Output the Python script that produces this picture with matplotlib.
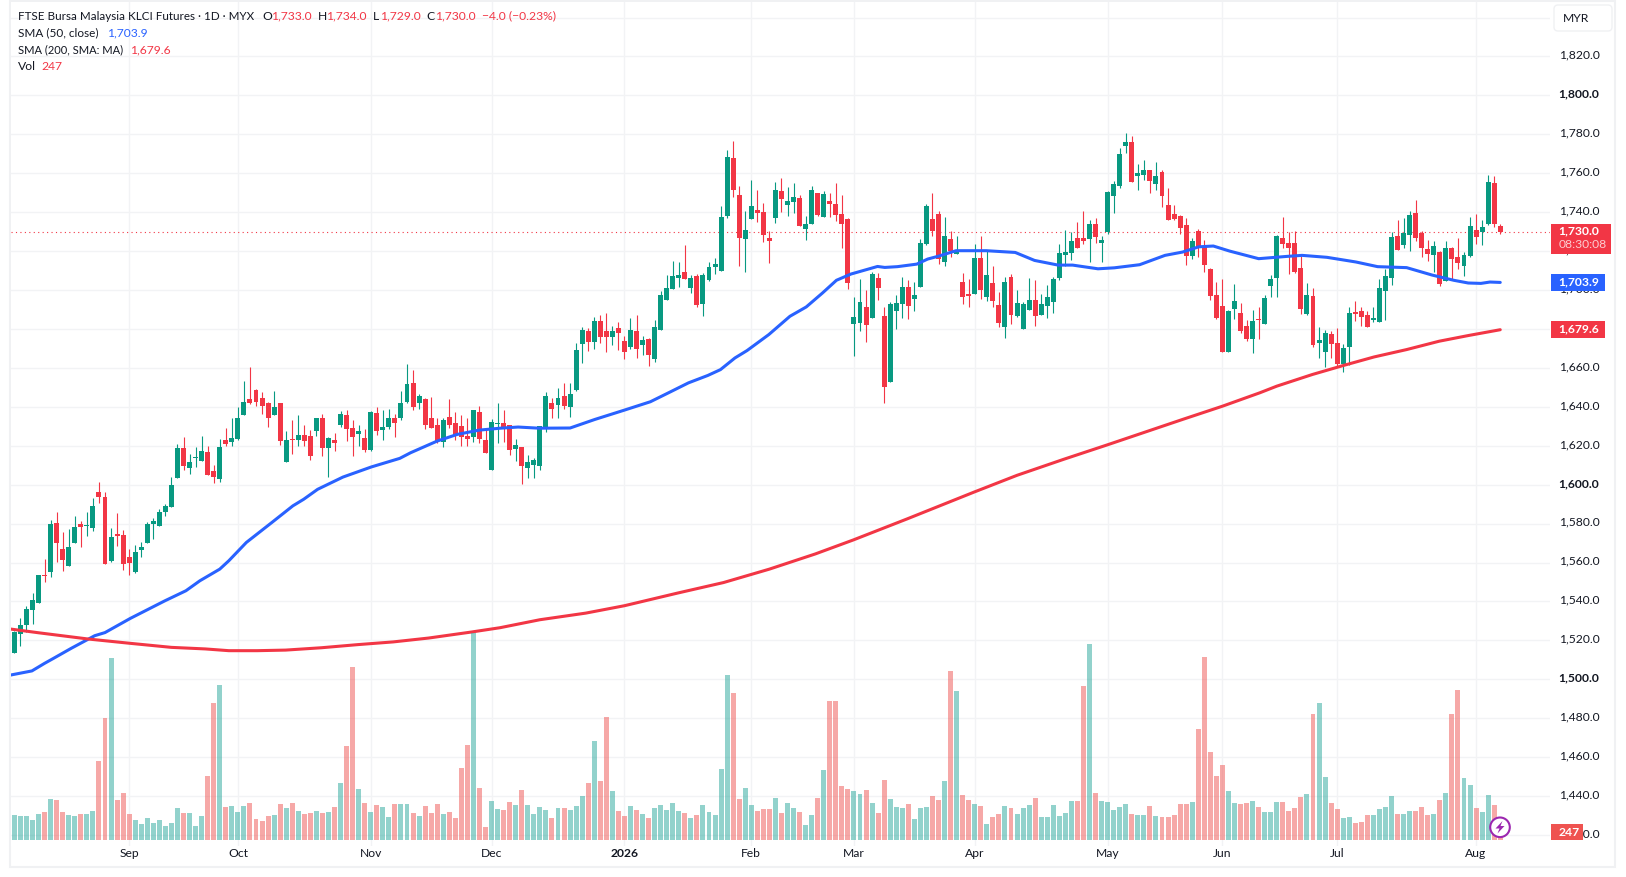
import matplotlib
matplotlib.use("Agg")
import matplotlib.pyplot as plt
from matplotlib.patches import Rectangle, FancyBboxPatch, Circle, Polygon
from matplotlib.transforms import Affine2D

W, H = 1626, 877
FONT = "Lato"
plt.rcParams["font.family"] = [FONT, "DejaVu Sans"]

opens = [
    1513.5,1523.2,1527.9,1535.6,1539.1,1553.2,1555,1580.2,1566.8,1558.1,
    1569.9,1579.7,1578.8,1577.6,1596.1,1593.5,1560.7,1574.2,1574,1562.7,
    1555,1566.3,1569.9,1579.7,1578.6,1585.8,1588.4,1603.2,1618.6,1608.4,
    1613.6,1612,1616.6,1606.8,1602.7,1622.7,1621.7,1623.2,1635.6,1643.8,
    1648.4,1644.3,1641.7,1635.6,1641.7,1611.5,1623.2,1622.7,1625.3,1624.8,
    1627.4,1634,1618.6,1622.7,1630.4,1635.6,1628.9,1625.8,1623.8,1617.6,
    1636.6,1627.9,1629.4,1634,1634,1642.7,1652,1641.7,1643.8,1634,
    1630.9,1621.7,1635,1631.5,1629.9,1624.8,1624.3,1637.1,1622.7,1607.4,
    1631,1631.5,1630.4,1618.1,1619.1,1608.4,1609.9,1609.4,1628.9,1642.2,
    1640.7,1645.8,1639.7,1648.4,1672.5,1679.1,1673.5,1684.3,1679.1,1676.1,
    1680.7,1674,1670.9,1679.1,1671.5,1675,1664.8,1679.7,1695,1700.7,
    1706.3,1709.4,1701.2,1707.4,1693,1705.3,1712,1709.9,1738.1,1767.9,
    1748.9,1726.3,1736.6,1741.2,1740.2,1726.8,1737.1,1750.9,1743.8,1745.3,
    1747.4,1731.5,1734,1749.9,1737.6,1745.8,1744.3,1739.1,1736.6,1682.7,
    1683.2,1691.5,1685.8,1706.3,1686.8,1652.5,1689.4,1693,1701.7,1695.6,
    1701.7,1723.8,1736.6,1739.1,1714.5,1726.3,1718.6,1704.3,1698.1,1698.1,
    1716.6,1696.6,1703.8,1692.5,1681.2,1706.8,1686.8,1680.2,1689.9,1695,
    1687.4,1692,1694,1706.3,1718.1,1719.1,1726.8,1726.8,1726.3,1734,
    1724.3,1729.9,1748.4,1753.5,1774,1776.1,1758.6,1759.1,1761.7,1754.5,
    1760.7,1743.8,1739.1,1738.1,1733.5,1717.6,1730.4,1722.7,1710.9,1697.6,
    1692,1668.4,1690.4,1688.4,1681.7,1675,1684.8,1682.7,1702.2,1706.3,
    1726.8,1724.3,1724.3,1711.5,1687.9,1697.1,1673,1668.4,1677.6,1673,
    1662.2,1670.9,1688,1689.4,1687.4,1684.8,1683.8,1699.7,1706.3,1727.9,
    1723.2,1728.4,1739.7,1729.4,1721.2,1718.1,1719.7,1704.8,1721.7,1717.1,
    1712.5,1717.6,1730.9,1729.9,1734,1755,1733,
]
closes = [
    1524.4,1527.9,1536.1,1540.7,1553.5,1553,1579.7,1569.9,1561.2,1567.9,
    1578.1,1578.1,1579,1588.9,1593.5,1559.1,1573,1573.8,1559.1,1559.7,
    1565.3,1567.9,1579.7,1581.2,1585.8,1588.9,1599.7,1618.6,1609.4,1611.5,
    1613.9,1617.1,1604.8,1603.8,1619.1,1620.7,1623.8,1634.5,1642.7,1641.7,
    1642.7,1640.2,1634,1639.7,1622.2,1622.7,1623.1,1625.3,1622.2,1614.5,
    1634,1618.6,1623.8,1621.2,1636.1,1628.4,1624.3,1627.4,1617.6,1637.1,
    1627.4,1629.4,1634,1631.5,1642.2,1651.5,1639.7,1645.3,1630.4,1628.9,
    1622.2,1633,1630.4,1625.3,1624.3,1623.2,1638.1,1623.2,1616.1,1632,
    1631.3,1628.9,1617.6,1620.2,1609.4,1611.5,1612.5,1629.9,1645.8,1639.1,
    1644.3,1640.2,1646.8,1669.4,1679.7,1673.5,1684.3,1676.1,1676.1,1679.1,
    1678.1,1668.4,1679.7,1669.9,1674.5,1666.8,1681.2,1697.6,1701.2,1707.4,
    1707.9,1705.8,1706.3,1692.5,1707.9,1712,1713.5,1737.6,1768.4,1751.5,
    1726.8,1730.9,1743.2,1739.7,1728.4,1725.3,1751.5,1746.8,1745.8,1747.9,
    1733,1734,1751.5,1738.6,1749.4,1744.3,1738.6,1734,1703.8,1686.3,
    1694,1682.2,1708.4,1701.2,1650.4,1693,1693.5,1701.7,1692,1697.6,
    1724.3,1743.2,1730.4,1716.1,1727.9,1720.2,1720.2,1696.6,1697.1,1716.6,
    1700.2,1707.9,1694.5,1683.2,1704.3,1687.4,1693.5,1693,1695,1686.8,
    1693,1696.6,1705.8,1719.1,1719.7,1725.3,1721.7,1725.3,1734,1727.4,
    1725.8,1750.4,1754.5,1769.9,1776.1,1755.6,1760.2,1761.7,1756.1,1758.6,
    1748.4,1736.1,1736.6,1732,1717.6,1725.3,1721.7,1713,1697.1,1685.8,
    1668.4,1689.4,1694.5,1679.1,1675,1684.3,1684.6,1696.1,1705.8,1727.9,
    1723.8,1721.7,1709.4,1690.4,1697.6,1671.5,1674.5,1678.1,1672.5,1662.2,
    1670.4,1688.4,1687.9,1686.3,1681.2,1685,1701.2,1707.4,1727.4,1720.7,
    1729.4,1738.6,1726.8,1721.7,1718.6,1722.7,1703.2,1721.7,1716.1,1714,
    1718.1,1733,1727.4,1732.5,1755.6,1734,1730,
]
highs = [
    1525,1531.5,1537.6,1544.3,1553.7,1561.7,1581.7,1585.8,1575.6,1577.1,
    1583.8,1581.2,1585.8,1593,1601.2,1596.1,1577.6,1585.3,1576.6,1566.8,
    1568.9,1570.4,1580.7,1582.7,1587.4,1589.9,1603.8,1620.7,1624.3,1615.6,
    1619.1,1624.8,1619.7,1609.9,1623.2,1628.9,1634.5,1639.7,1653,1660.7,
    1648.9,1647.4,1642.7,1647.9,1641.9,1627.4,1633,1635.6,1630.4,1627.9,
    1634.5,1636.1,1624.3,1626.3,1637.6,1638.6,1633,1630.4,1628.4,1637.6,
    1639.7,1638.6,1639.1,1636.1,1647.9,1662.2,1659.1,1646.8,1644.3,1644.8,
    1634.5,1634.5,1643.8,1637.1,1635.6,1634.5,1638.6,1640.2,1627.9,1633.5,
    1642.2,1638.6,1630.6,1623.2,1619.3,1615,1613.5,1630,1647.4,1644.3,
    1649.9,1652,1652,1673,1681.2,1680.7,1686.3,1687.4,1688.4,1681.7,
    1683.8,1676.6,1685.8,1687.4,1676.6,1675.6,1684.8,1699.7,1707.9,1715,
    1714.5,1723.2,1707.9,1708.4,1708.9,1714.5,1716.6,1743.2,1772,1776.6,
    1753.5,1740.7,1756.6,1751.5,1744.8,1730.4,1755.6,1757.6,1753,1755,
    1748.9,1738.1,1753.5,1750,1750.9,1749.9,1755,1748.9,1736.8,1696.6,
    1705.8,1700.2,1709.4,1708.9,1691.5,1694,1697.6,1706.8,1705.3,1704.3,
    1726.3,1744.3,1749.9,1740.7,1737.6,1730.4,1727.9,1708.9,1705.8,1723.8,
    1727.9,1720.2,1712.5,1699.1,1706.8,1708.4,1700.2,1694,1706.3,1705.3,
    1698.1,1702.7,1706.8,1723.8,1730.9,1729.9,1735,1740.7,1736.1,1737.1,
    1727.9,1750.9,1756.1,1773,1780.7,1779.1,1764.8,1766.8,1761.9,1765.8,
    1761.7,1752.5,1743.8,1738.3,1737.1,1726.8,1731.5,1725.8,1711.5,1704.3,
    1705.8,1689.6,1703.2,1693.5,1684.8,1689.9,1691.5,1697.6,1707.9,1728.4,
    1737.6,1729.9,1730.4,1717.6,1703.8,1701.2,1681.2,1679.7,1679.1,1680.7,
    1672.5,1691.5,1694.5,1691.5,1689.4,1691.5,1705.8,1710.9,1729.9,1736.1,
    1737.1,1740.7,1746.3,1730.4,1725.8,1725.3,1720.2,1725.3,1721.9,1726.8,
    1719.7,1737.6,1739.1,1736.1,1759.1,1758.6,1734,
]
lows = [
    1513.5,1517.1,1524.1,1528.4,1539,1549.9,1552.5,1560.2,1555.6,1558,
    1569.9,1567.9,1573.5,1576.1,1590.4,1559,1560.2,1568.4,1556.1,1553.5,
    1554.5,1562.7,1569.9,1572,1578.6,1583.8,1588.4,1603.2,1607.4,1605.3,
    1608.9,1612,1604.8,1600.7,1601.2,1619.7,1619.7,1622.7,1635.6,1641.2,
    1640.2,1636.1,1629.4,1635.6,1620.2,1611.5,1615.6,1619.7,1619.7,1612.5,
    1624.8,1614.5,1603.8,1617.1,1629.4,1622.2,1614.5,1619.7,1616.6,1617.5,
    1625.3,1622.7,1628.4,1624.3,1633,1641.7,1638.6,1639.1,1628.4,1628.9,
    1621.2,1619.1,1628.9,1622.7,1619.7,1619.7,1621.7,1621.2,1616.1,1607.4,
    1621.2,1621.7,1615,1612,1600.2,1603.2,1603.2,1607.4,1626.8,1634,
    1634,1639.1,1634.7,1647.9,1662.7,1668.9,1669.9,1673,1668.4,1671.5,
    1669.4,1664.3,1669.9,1665.3,1666.8,1661.2,1663.2,1679.7,1695,1700.7,
    1701.7,1705.8,1698.6,1691.5,1686.8,1704.8,1708.4,1709.9,1737.1,1747.9,
    1712.5,1709.4,1736.6,1735,1724.8,1714,1734.5,1740.2,1738.1,1739.7,
    1733,1725.8,1734,1738.1,1737.6,1737.6,1735.6,1721.7,1700.7,1666.3,
    1679.1,1673.5,1685.8,1695,1641.7,1652.5,1680.2,1685.8,1685.3,1689.4,
    1701.7,1723.2,1727.9,1713.5,1712.5,1717.1,1718.6,1693,1691.5,1698.1,
    1695.6,1694.5,1691.5,1681.2,1675.6,1682.7,1686.3,1680.2,1689.9,1681.7,
    1687.4,1685.8,1688.4,1705.3,1712.5,1715.6,1721.7,1723.8,1714.5,1724.3,
    1714.5,1728.9,1739.7,1752.5,1770.4,1755.6,1751.5,1756.6,1749.9,1751.5,
    1742.7,1736.1,1736.1,1728.9,1713,1716.1,1717.1,1709.4,1695,1685.3,
    1668.4,1668.3,1685.3,1678.1,1674,1667.4,1675,1682.7,1696.6,1696.6,
    1721.7,1708.4,1708.9,1687.9,1687.4,1670.9,1665.3,1660.7,1665.3,1660.7,
    1658.1,1661.7,1684.3,1681.7,1681.2,1683.8,1683.8,1684.8,1702.7,1720.7,
    1721.7,1720.2,1725.3,1717.1,1715,1709.4,1702.2,1704.8,1705.3,1710.9,
    1707.4,1717.1,1723.8,1723.2,1733.5,1732.5,1729,
]
volumes = [
    805,773,773,644,838,902,1321,1289,902,805,
    773,838,838,934,2545,3931,5864,1289,1514,838,
    644,516,709,548,644,451,548,1031,870,870,
    451,773,2062,4414,4994,1063,1095,902,1095,1192,
    677,612,773,805,1160,1031,1192,934,838,870,
    934,870,902,1063,1837,3029,5574,1643,1192,902,
    1128,1063,741,1160,1160,1160,870,773,1095,870,
    1160,838,902,709,2320,3061,6659,1675,419,1257,
    999,967,1224,1128,1611,1128,838,1063,967,709,
    1031,1031,967,1095,1418,1837,3190,1901,3963,1579,
    934,773,1095,967,838,709,1031,1128,967,1192,
    934,870,709,805,1128,902,805,2288,5316,4736,
    1321,1675,1128,934,999,999,1353,870,1192,1031,
    902,483,805,1353,2255,4479,4479,1740,1643,1579,
    1482,1611,1192,870,1933,1321,1063,1031,1160,677,
    1031,1063,1418,1289,1901,5445,4801,1450,1289,1160,
    1095,516,741,838,1095,1031,838,1031,1128,1353,
    741,741,1128,773,870,1257,1257,4962,6315,1514,
    1257,1224,967,1063,1160,838,805,805,1095,773,
    741,741,805,1160,1160,1224,3576,5896,2835,2062,
    2417,1579,1192,1160,1192,1257,1063,902,902,1224,
    1224,934,1031,1385,1482,4060,4414,2030,1192,999,
    709,741,548,580,805,805,999,1063,1418,838,
    838,934,934,1063,805,838,1289,1514,4060,4833,
    1998,1772,1031,902,1450,1128,247,
]

sma50_bar = [-0.6,2.9,5,6.5,9.4,13.3,15,19.2,24.9,28.4,30.7,34,35.5,38.4,42.6,46.1,47.9,50.2,54.4,59.1,63.8,65.6,70,73.3,76.9,80.4,83.4,86.9,92,96.1,101,105.3,108.3,111.6,114.8,116.9,119.3,121.3,124.9,128.4,131.1,133.8,136.1,138.5,142.9,144.1,146.2,149.4,151.2,152.9,155.9,160.9,165.7,168.9,172.8,175.2,179.4,182.1,186.3,190.5,193.4,196.1,198.5,201.2,206,210.8,213.2,217.3,222.1,225.7,230.5,234.7,238.3,240.7,242.8,244.3,246]
sma50_val = [1502.2,1504.3,1508.2,1510.8,1515.9,1522.4,1524,1531.3,1540.3,1545.5,1550.6,1556.6,1560.9,1570.3,1580.5,1589.1,1592.5,1597.6,1603.9,1609.1,1613.5,1616.4,1622.4,1625.8,1628,1629,1629.6,1629,1629.1,1633.5,1638.3,1642.6,1647.2,1652.3,1656.1,1659.1,1665.1,1668.9,1677.1,1686.5,1691.3,1698.5,1705,1708.2,1712.1,1711.6,1712,1713.3,1715.9,1717.3,1720.2,1720.2,1719.3,1715.2,1712.8,1712.8,1710.9,1711.4,1713,1717.8,1719.5,1722.2,1722.6,1720,1716.1,1717.3,1717.8,1716.8,1714.4,1712,1711.5,1707.7,1705,1703.6,1703.4,1704.1,1703.9]
sma200_bar = [-0.6,4,12.2,19.1,26,31.6,35.5,40.2,44.9,50.8,56.8,62.7,68.6,75.7,80.4,87,94.6,101,109.8,117.4,125,132.6,138.9,147.8,158.9,166,173.7,181,193.4,200,206.2,209,214.9,220,225.1,230.5,235.9,240.7,246]
sma200_val = [1525.8,1523.9,1520.7,1518.5,1516.4,1515.6,1514.7,1514.7,1515,1516.2,1517.8,1519.2,1521.2,1524.3,1526.5,1530.6,1534,1537.8,1544.3,1549.7,1556.6,1564.4,1571.6,1582.4,1596.2,1604.8,1613,1620.5,1633.5,1640.3,1647.2,1650.6,1656.6,1661.2,1665.6,1669.4,1673.7,1676.6,1679.6]

month_bars = [19,37,59,79,101,122,139,159,181,200,219,242]
month_labels = ["Sep","Oct","Nov","Dec","2026","Feb","Mar","Apr","May","Jun","Jul","Aug"]
price_ticks = list(range(1420, 1841, 20))
bold_prices = [1500, 1600, 1800]

GREEN, RED, BLUE = "#089981", "#f23645", "#2962ff"
GRID, TEXT = "#f2f3f5", "#131722"
px = Affine2D().scale(1, -1).translate(0, H)

# pane geometry in pixels, and the scale that follows from it
L, R, T, B = 10.5, 1550.0, 2.0, 846.0
BAR0, STEP = 14.4, 6.04
Y1780, PPU = 134.3, 1.9464
VOL_BASE, VOL_PER_PX = 840.0, 32.2

fig = plt.figure(figsize=(W / 100, H / 100), dpi=100, facecolor="white")
rect = [L / W, 1 - B / H, (R - L) / W, (B - T) / H]
ax = fig.add_axes(rect, zorder=1, facecolor="white")
vax = fig.add_axes(rect, zorder=2, facecolor="none")
xlim = ((L - BAR0) / STEP, (R - BAR0) / STEP)
ax.set_xlim(xlim); vax.set_xlim(xlim)
ax.set_ylim(1780 - (B - Y1780) / PPU, 1780 + (Y1780 - T) / PPU)
vax.set_ylim(-(B - VOL_BASE) * VOL_PER_PX, (VOL_BASE - T) * VOL_PER_PX)

for a in (ax, vax):
    for s in a.spines.values():
        s.set_visible(False)
vax.set_xticks([]); vax.set_yticks([])

bars = list(range(len(closes)))
up = [c >= o for o, c in zip(opens, closes)]

# volume
vax.bar(bars, volumes, width=0.82, linewidth=0, alpha=0.5,
        color=["#26a69a" if u else "#ef5350" for u in up])

# grid and ticks
ax.set_xticks(month_bars)
ax.set_xticklabels(month_labels, fontsize=8.7, color=TEXT)
for lbl, name in zip(ax.get_xticklabels(), month_labels):
    if name == "2026":
        lbl.set_fontweight("bold")
ax.yaxis.tick_right()
ax.set_yticks(price_ticks)
ax.set_yticklabels([f"{p:,.1f}" if p != 1840 else "" for p in price_ticks],
                   fontsize=8.7, color=TEXT)
ax.tick_params(axis="x", length=0, pad=1.5)
ax.tick_params(axis="y", length=0, pad=6.2)
lift = Affine2D().translate(0, 2.2)
for lbl, p in zip(ax.get_yticklabels(), price_ticks):
    lbl.set_transform(lbl.get_transform() + lift)
    if p in bold_prices:
        lbl.set_fontweight("bold")
ax.grid(True, color=GRID, linewidth=1.0)
ax.set_axisbelow(True)

# candles
colors = [GREEN if u else RED for u in up]
ax.vlines(bars, lows, highs, colors=colors, linewidth=0.8, zorder=3)
ax.bar(bars, [max(abs(c - o), 0.6) for o, c in zip(opens, closes)],
       bottom=[min(o, c) for o, c in zip(opens, closes)],
       width=0.82, color=colors, linewidth=0, zorder=4)

# last price line and averages
ax.axhline(closes[-1], color=RED, linewidth=0.8, linestyle=(0, (1, 3)), zorder=2)
ax.plot(sma50_bar, sma50_val, color=BLUE, linewidth=2.2, zorder=5, solid_capstyle="round")
ax.plot(sma200_bar, sma200_val, color=RED, linewidth=2.2, zorder=6, solid_capstyle="round")

# frame
fig.add_artist(Rectangle((9.5, 1), 1605.5, 866, transform=px, fill=False,
                         edgecolor="#f0f1f3", linewidth=1.5, zorder=0.5))


def tag(x0, x1, y0, y1, color):
    fig.add_artist(Rectangle((x0, y0), x1 - x0, y1 - y0, transform=px, facecolor=color,
                             edgecolor="none", zorder=5))


def label(x, y, s, color=TEXT, ha="left", weight="normal", size=8.7, alpha=1):
    fig.text(x, y, s, transform=px, color=color, ha=ha, va="center", fontsize=size,
             fontweight=weight, zorder=6, alpha=alpha)


tag(1551, 1610.5, 223.5, 254, RED)
label(1558.7, 230.5, f"{closes[-1]:,.1f}", "white", weight="bold")
label(1558.7, 244.5, "08:30:08", "white", alpha=0.75)
tag(1551, 1605, 274, 290.5, BLUE)
label(1558.7, 282, f"{sma50_val[-1]:,.1f}", "white", weight="bold")
tag(1551, 1605, 321, 337.5, RED)
label(1558.7, 329, f"{sma200_val[-1]:,.1f}", "white", weight="bold")
tag(1551, 1583, 824, 840, "#ef5350")
label(1558.7, 832, f"{volumes[-1]}", "white", weight="bold")

# currency button
fig.add_artist(FancyBboxPatch((1556, 7), 54, 22, boxstyle="round,pad=2,rounding_size=4", transform=px,
                              facecolor="white", edgecolor="#f0f1f3", linewidth=1.0, zorder=5))
label(1562.7, 19, "MYR")

# legend
label(18, 16, "FTSE Bursa Malaysia KLCI Futures · 1D · MYX", size=8.4)
for x, s, c in [(262, "O", TEXT), (271, f"{opens[-1]:,.1f}", RED), (318, "H", TEXT),
                (326.4, f"{highs[-1]:,.1f}", RED), (373, "L", TEXT), (380, f"{lows[-1]:,.1f}", RED),
                (426.7, "C", TEXT), (435, f"{closes[-1]:,.1f}", RED),
                (482, "\u22124.0 (\u22120.23%)", RED)]:
    label(x, 16, s, c)
label(18, 33, "SMA (50, close)", size=8.5); label(107, 33, f"{sma50_val[-1]:,.1f}", BLUE)
label(18, 50, "SMA (200, SMA: MA)", size=8.0); label(130, 50, f"{sma200_val[-1]:,.1f}", RED)
label(18, 67, "Vol"); label(41.3, 67, f"{volumes[-1]}", RED)

# flash icon
PURPLE = "#9c27b0"
fig.add_artist(Circle((1500, 827.3), 9.8, transform=px, facecolor="white", edgecolor=PURPLE,
                      linewidth=1.5, zorder=5))
fig.add_artist(Polygon([(1502.5, 821), (1495.5, 828.5), (1499.5, 828.5), (1497.5, 833.5),
                        (1504.5, 826), (1500.5, 826)], closed=True, transform=px,
                       facecolor=PURPLE, edgecolor="none", zorder=6))

fig.savefig("out.png", dpi=100, facecolor="white")
